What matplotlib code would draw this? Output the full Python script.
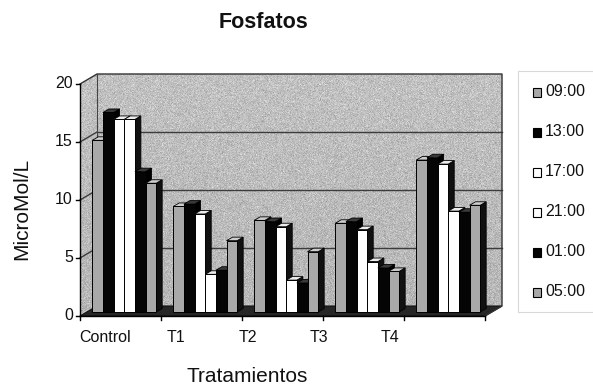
import numpy as np
import matplotlib
matplotlib.use("Agg")
import matplotlib.pyplot as plt
from matplotlib.patches import Polygon, Rectangle

plt.rcParams["font.family"] = ["Liberation Sans", "DejaVu Sans"]

# ---- data -------------------------------------------------------------
treatments = ["Control", "T1", "T2", "T3", "T4"]
hours = ["09:00", "13:00", "17:00", "21:00", "01:00", "05:00"]
h0900 = [14.8, 9.1, 7.9, 7.65, 13.1]
h1300 = [17.2, 9.3, 7.8, 7.8, 13.3]
h1700 = [16.6, 8.45, 7.35, 7.1, 12.75]
h2100 = [16.6, 3.25, 2.75, 4.35, 8.7]
h0100 = [12.1, 3.6, 2.5, 3.8, 8.6]
h0500 = [11.1, 6.15, 5.2, 3.5, 9.2]
series = [h0900, h1300, h1700, h2100, h0100, h0500]
y_ticks = [0, 5, 10, 15, 20]

# face colours per series: (front, top, side)
GRAY = ("#a9a9a9", "#cdcdcd", "#111111")
BLACK = ("#050505", "#3a3a3a", "#000000")
WHITE = ("#ffffff", "#ececec", "#111111")
styles = [GRAY, BLACK, WHITE, WHITE, BLACK, GRAY]

W, H = 593, 385
fig = plt.figure(figsize=(W / 100, H / 100), dpi=100)

# background axes in pixel units (walls, floor, gridlines)
bg = fig.add_axes([0, 0, 1, 1], zorder=0)
bg.set_xlim(0, W)
bg.set_ylim(0, H)
bg.axis("off")

# main axes = back wall of the 3-D box
ax = fig.add_axes([97 / W, 79 / H, 405 / W, 232 / H], zorder=1)
ax.set_xlim(0, len(treatments))
ax.set_ylim(0, 20)
ax.axis("off")

FRONT = np.array([-17.0, -10.0])   # front plane offset (px)
BARPL = np.array([-10.0, -6.0])    # plane of bar front faces (px)
DEPTH = np.array([6.0, 3.5])       # bar depth (px)


def disp(x, y, off=(0.0, 0.0)):
    return ax.transData.transform((x, y)) + np.asarray(off)


# ---- walls with a granite-like grain -----------------------------------
rng = np.random.default_rng(3)
grain = rng.normal(0, 1, (H, W))
grad = np.linspace(0.70, 0.77, H)[:, None]
tex = np.clip(grad + 0.045 * grain, 0, 1)

xmax = len(treatments)
back_wall = [disp(0, 0), disp(xmax, 0), disp(xmax, 20), disp(0, 20)]
left_wall = [disp(0, 0, FRONT), disp(0, 0), disp(0, 20), disp(0, 20, FRONT)]
floor = [disp(0, 0, FRONT), disp(xmax, 0, FRONT), disp(xmax, 0), disp(0, 0)]

for poly in (back_wall, left_wall):
    im = bg.imshow(tex, extent=(0, W, 0, H), origin="lower", cmap="gray",
                   vmin=0, vmax=1, interpolation="bilinear", zorder=1,
                   aspect="auto")
    clip = Polygon(poly, closed=True, fill=False, edgecolor="none",
                   transform=bg.transData)
    bg.add_patch(clip)
    im.set_clip_path(clip)

bg.add_patch(Polygon(floor, closed=True, facecolor="#262626",
                     edgecolor="#111111", lw=0.8, zorder=2))

# gridlines on back and side walls
for v in y_ticks[1:-1]:
    p0, p1 = disp(0, v), disp(xmax, v)
    bg.plot([p0[0], p1[0]], [p0[1], p1[1]], color="#3c3c3c", lw=1.0, zorder=3)
    q0 = disp(0, v, FRONT)
    bg.plot([q0[0], p0[0]], [q0[1], p0[1]], color="#3c3c3c", lw=1.0, zorder=3)

# wall outlines
outline = [disp(0, 20, FRONT), disp(0, 20), disp(xmax, 20), disp(xmax, 0),
           disp(xmax, 0, FRONT)]
bg.plot([p[0] for p in outline], [p[1] for p in outline], color="#333333",
        lw=1.0, zorder=4)
bg.plot([back_wall[0][0], back_wall[3][0]], [back_wall[0][1], back_wall[3][1]],
        color="#444444", lw=0.8, zorder=4)

# front value axis
a0, a1 = disp(0, 0, FRONT), disp(0, 20, FRONT)
bg.plot([a0[0], a1[0]], [a0[1], a1[1]], color="black", lw=1.0, zorder=5)
for v in y_ticks:
    p = disp(0, v, FRONT)
    bg.plot([p[0] - 4, p[0]], [p[1], p[1]], color="black", lw=1.0, zorder=5)
    bg.text(p[0] - 7, p[1], str(v), ha="right", va="center", fontsize=11.5,
            color="#111111")

# front category axis
c0, c1 = disp(0, 0, FRONT), disp(xmax, 0, FRONT)
bg.plot([c0[0], c1[0]], [c0[1], c1[1]], color="black", lw=1.0, zorder=5)
for i in range(len(treatments) + 1):
    p = disp(i, 0, FRONT)
    bg.plot([p[0], p[0]], [p[1], p[1] - 4], color="black", lw=1.0, zorder=5)

# category labels
for i, name in enumerate(treatments):
    bg.text(105 + 71.2 * i, H - 338, name, ha="center", va="center",
            fontsize=11.5, color="#111111")

# ---- 3-D bars -------------------------------------------------------------
bar_tr = matplotlib.transforms.offset_copy(ax.transData, fig=fig,
                                           x=BARPL[0], y=BARPL[1], units="dots")
GROUP_START = 0.065
BAR_W = 0.1315

for g in range(len(treatments)):
    for s, vals in enumerate(series):
        front_c, top_c, side_c = styles[s]
        x0 = g + GROUP_START + s * BAR_W
        v = vals[g]
        br = disp(x0 + BAR_W, 0, BARPL)
        tl = disp(x0, v, BARPL)
        tr = disp(x0 + BAR_W, v, BARPL)
        side = [br, br + DEPTH, tr + DEPTH, tr]
        top = [tl, tr, tr + DEPTH, tl + DEPTH]
        ax.add_patch(Polygon(side, closed=True, facecolor=side_c,
                             edgecolor="black", lw=0.6, transform=None,
                             zorder=2, clip_on=False))
        ax.add_patch(Polygon(top, closed=True, facecolor=top_c,
                             edgecolor="black", lw=0.6, transform=None,
                             zorder=2, clip_on=False))
        ax.bar(x0, v, BAR_W, align="edge", color=front_c, edgecolor="black",
               lw=0.7, transform=bar_tr, zorder=2, clip_on=False)

# ---- legend -----------------------------------------------------------------
bg.add_patch(Rectangle((518, H - 312), 90, 241, facecolor="white",
                       edgecolor="#d8d8d8", lw=0.8, zorder=2))
for i, name in enumerate(hours):
    yc = H - (92 + 40 * i)
    front_c = styles[i][0]
    bg.add_patch(Rectangle((533, yc - 4.5), 8, 9, facecolor=front_c,
                           edgecolor="black", lw=0.8, zorder=3))
    bg.text(545, yc, name, ha="left", va="center", fontsize=11.5,
            color="#111111", zorder=3)

# ---- titles -----------------------------------------------------------------
fig.text(263 / W, 1 - 23 / H, "Fosfatos", ha="center", va="center",
         fontsize=15.5, fontweight="bold", color="#111111")
fig.text(22 / W, 1 - 209 / H, "MicroMol/L", ha="center", va="center",
         rotation=90, fontsize=15, color="#111111")
fig.text(247 / W, 1 - 377 / H, "Tratamientos", ha="center", va="center",
         fontsize=15, color="#111111")

fig.savefig("out.png", dpi=100, facecolor="white")
